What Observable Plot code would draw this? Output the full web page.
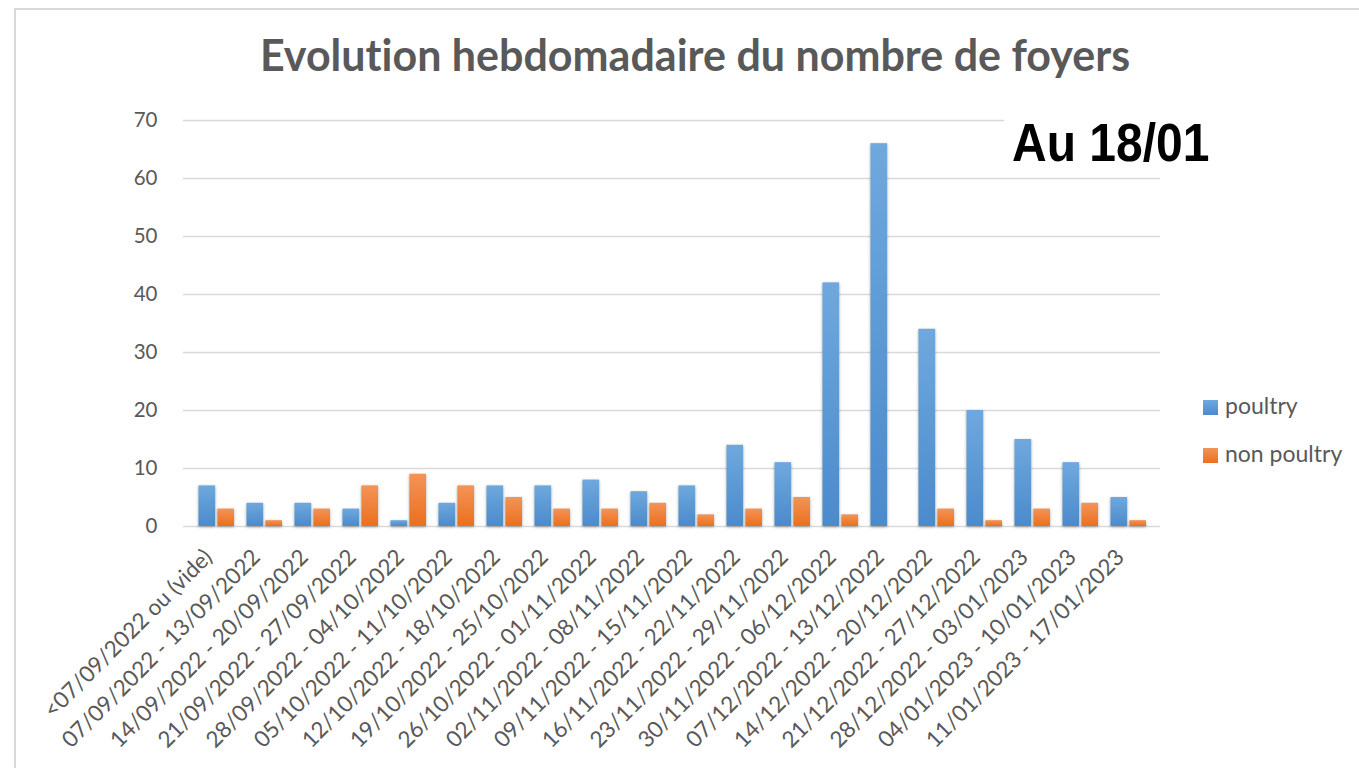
<!DOCTYPE html>
<html>
<head>
<meta charset="utf-8">
<script src="https://cdn.jsdelivr.net/npm/d3@7"></script>
<script src="https://cdn.jsdelivr.net/npm/@observablehq/plot@0.6"></script>
<style>
  html, body { margin: 0; padding: 0; background: #fff; }
  body { width: 1359px; height: 768px; overflow: hidden; position: relative; font-family: Lato, "Open Sans", sans-serif; font-variant-ligatures: none; }
  #frame { position: absolute; left: 14px; top: 8px; width: 1420px; height: 820px; border: 2px solid #d9d9d9; box-sizing: border-box; }
  #title { position: absolute; left: 0; width: 1390px; top: 33px; text-align: center; font-weight: 700; font-size: 43px; line-height: 43px; color: #595959; white-space: nowrap; }
  #chart { position: absolute; left: 0; top: 0; }
  #stamp { position: absolute; left: 1004px; top: 116px; padding: 0 8px; background: #fff; font-family: "Liberation Sans", Arial, sans-serif; font-weight: 700; font-size: 48px; line-height: 48px; color: #000; transform: scaleY(1.12); transform-origin: top left; white-space: nowrap; }
  .legend { position: absolute; left: 1203px; font-size: 23px; line-height: 23px; color: #595959; white-space: nowrap; }
  .legend .sw { display: inline-block; width: 15px; height: 15px; vertical-align: -1px; margin-right: 7px; }
</style>
</head>
<body>
<div id="frame"></div>
<div id="title">Evolution hebdomadaire du nombre de foyers</div>
<div id="chart"></div>
<div id="stamp">Au 18/01</div>
<div class="legend" style="top:394px"><span class="sw" style="background:linear-gradient(#6ea8de,#4a8bcd)"></span>poultry</div>
<div class="legend" style="top:442px"><span class="sw" style="background:linear-gradient(#f39457,#eb6f1e)"></span>non poultry</div>
<script>
const weeks = [
  "<07/09/2022 ou (vide)",
  "07/09/2022 - 13/09/2022",
  "14/09/2022 - 20/09/2022",
  "21/09/2022 - 27/09/2022",
  "28/09/2022 - 04/10/2022",
  "05/10/2022 - 11/10/2022",
  "12/10/2022 - 18/10/2022",
  "19/10/2022 - 25/10/2022",
  "26/10/2022 - 01/11/2022",
  "02/11/2022 - 08/11/2022",
  "09/11/2022 - 15/11/2022",
  "16/11/2022 - 22/11/2022",
  "23/11/2022 - 29/11/2022",
  "30/11/2022 - 06/12/2022",
  "07/12/2022 - 13/12/2022",
  "14/12/2022 - 20/12/2022",
  "21/12/2022 - 27/12/2022",
  "28/12/2022 - 03/01/2023",
  "04/01/2023 - 10/01/2023",
  "11/01/2023 - 17/01/2023"
];
const poultry    = [7, 4, 4, 3, 1, 4, 7, 7, 8, 6, 7, 14, 11, 42, 66, 34, 20, 15, 11, 5];
const nonPoultry = [3, 1, 3, 7, 9, 7, 5, 3, 3, 4, 2, 3, 5, 2, 0, 3, 1, 3, 4, 1];
const yTicks = [0, 10, 20, 30, 40, 50, 60, 70];

const table = weeks.map((w, i) => ({week: w, poultry: poultry[i], nonPoultry: nonPoultry[i]}));

const svg = Plot.plot({
  width: 1359,
  height: 768,
  marginLeft: 183,
  marginRight: 199,
  marginTop: 120,
  marginBottom: 242,
  style: {fontFamily: "Lato, 'Open Sans', sans-serif", fontSize: "20px", color: "#595959", background: "transparent", overflow: "visible"},
  x: {type: "band", domain: weeks, padding: 0, label: null},
  y: {domain: [0, 70], label: null},
  marks: [
    Plot.gridY(yTicks, {stroke: "#d9d9d9", strokeOpacity: 1, strokeWidth: 1.6}),
    Plot.barY(table, {x: "week", y: "poultry", fill: "url(#gradBlue)", insetLeft: 6.5, insetRight: 24.9}),
    Plot.barY(table, {x: "week", y: "nonPoultry", fill: "url(#gradOrange)", insetLeft: 25.4, insetRight: 6}),
    Plot.axisY(yTicks, {tickSize: 0, tickPadding: 26, fontSize: 20.5, fill: "#595959", label: null}),
    Plot.axisX({tickSize: 0, tickRotate: -45, tickPadding: 27, dx: -8, fontSize: 22.5, fill: "#595959", label: null})
  ]
});

const defs = d3.select(svg).insert("defs", ":first-child");
function grad(id, c1, c2) {
  const g = defs.append("linearGradient").attr("id", id).attr("x1", 0).attr("y1", 0).attr("x2", 0).attr("y2", 1);
  g.append("stop").attr("offset", "0%").attr("stop-color", c1);
  g.append("stop").attr("offset", "100%").attr("stop-color", c2);
}
grad("gradBlue", "#6ea8de", "#4a8bcd");
grad("gradOrange", "#f39457", "#eb6f1e");
d3.select(svg).selectAll("g[aria-label='bar']").style("filter", "drop-shadow(0px 1px 1.5px rgba(0,0,0,0.35))");

document.getElementById("chart").appendChild(svg);
</script>
</body>
</html>
